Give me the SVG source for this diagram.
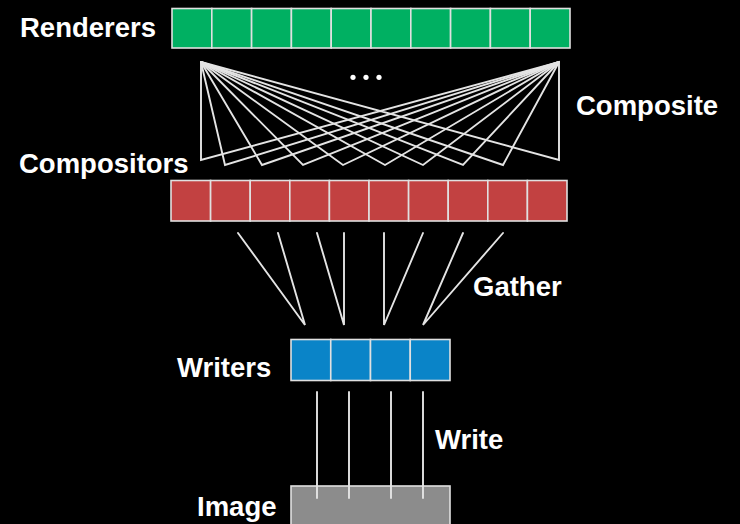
<svg xmlns="http://www.w3.org/2000/svg" width="740" height="524" viewBox="0 0 740 524">
  <style>
    .lbl { font-family: "Liberation Sans", Arial, Helvetica, sans-serif; font-weight: bold; font-size: 27.5px; fill: #ffffff; }
    .cell { stroke: #e0e0e0; stroke-width: 1.6; }
    .rend { fill: #00b062; }
    .comp { fill: #c24141; }
    .writ { fill: #0a84c8; }
    .img { fill: #8c8c8c; }
    .wire { stroke: #e4e4e4; stroke-width: 1.9; fill: none; stroke-linecap: round; }
  </style>
  <rect width="740" height="524" fill="#000000"/>

  <!-- Renderers row -->
  <g id="renderers">
    <text class="lbl" x="20" y="37">Renderers</text>
    <rect class="cell rend" x="172" y="8.5" width="39.8" height="39.5"/>
    <rect class="cell rend" x="211.8" y="8.5" width="39.8" height="39.5"/>
    <rect class="cell rend" x="251.6" y="8.5" width="39.8" height="39.5"/>
    <rect class="cell rend" x="291.4" y="8.5" width="39.8" height="39.5"/>
    <rect class="cell rend" x="331.2" y="8.5" width="39.8" height="39.5"/>
    <rect class="cell rend" x="371" y="8.5" width="39.8" height="39.5"/>
    <rect class="cell rend" x="410.8" y="8.5" width="39.8" height="39.5"/>
    <rect class="cell rend" x="450.6" y="8.5" width="39.8" height="39.5"/>
    <rect class="cell rend" x="490.4" y="8.5" width="39.8" height="39.5"/>
    <rect class="cell rend" x="530.2" y="8.5" width="39.8" height="39.5"/>
  </g>

  <!-- Compositors row -->
  <g id="compositors">
    <text class="lbl" x="19" y="173">Compositors</text>
    <rect class="cell comp" x="171" y="180.5" width="39.6" height="40.5"/>
    <rect class="cell comp" x="210.6" y="180.5" width="39.6" height="40.5"/>
    <rect class="cell comp" x="250.2" y="180.5" width="39.6" height="40.5"/>
    <rect class="cell comp" x="289.8" y="180.5" width="39.6" height="40.5"/>
    <rect class="cell comp" x="329.4" y="180.5" width="39.6" height="40.5"/>
    <rect class="cell comp" x="369" y="180.5" width="39.6" height="40.5"/>
    <rect class="cell comp" x="408.6" y="180.5" width="39.6" height="40.5"/>
    <rect class="cell comp" x="448.2" y="180.5" width="39.6" height="40.5"/>
    <rect class="cell comp" x="487.8" y="180.5" width="39.6" height="40.5"/>
    <rect class="cell comp" x="527.4" y="180.5" width="39.6" height="40.5"/>
  </g>

  <!-- Writers row -->
  <g id="writers">
    <text class="lbl" x="177" y="377">Writers</text>
    <rect class="cell writ" x="291" y="339.5" width="39.75" height="41"/>
    <rect class="cell writ" x="330.75" y="339.5" width="39.75" height="41"/>
    <rect class="cell writ" x="370.5" y="339.5" width="39.75" height="41"/>
    <rect class="cell writ" x="410.25" y="339.5" width="39.75" height="41"/>
  </g>

  <!-- Output image -->
  <g id="image">
    <text class="lbl" x="197" y="516">Image</text>
    <rect class="cell img" x="291" y="486" width="159" height="50"/>
  </g>

  <!-- Stage labels -->
  <g id="stage-labels">
    <text class="lbl" x="576" y="115">Composite</text>
    <text class="lbl" x="473" y="296">Gather</text>
    <text class="lbl" x="435" y="449">Write</text>
    <circle cx="353" cy="77.3" r="2.6" fill="#ffffff"/>
    <circle cx="366" cy="77.3" r="2.6" fill="#ffffff"/>
    <circle cx="379" cy="77.3" r="2.6" fill="#ffffff"/>
  </g>

  <!-- Connectors -->
  <g id="connectors" class="wire">
    <!-- composite: every bottom point tied to both apexes -->
    <path d="M201 62 L201 160 L559 62 L559 160 L201 62"/>
    <path d="M201 62 L225 165 L559 62"/>
    <path d="M201 62 L262 165 L559 62"/>
    <path d="M201 62 L303 165 L559 62"/>
    <path d="M201 62 L343 165 L559 62"/>
    <path d="M201 62 L385 165 L559 62"/>
    <path d="M201 62 L423 165 L559 62"/>
    <path d="M201 62 L463 165 L559 62"/>
    <path d="M201 62 L503 165 L559 62"/>

    <!-- gather -->
    <path d="M238 233 L305 325 L278 233"/>
    <path d="M317 233 L344 325 L344 233"/>
    <path d="M384 233 L384 325 L423 233"/>
    <path d="M463 233 L423 325 L503 233"/>

    <!-- write -->
    <path d="M317 392 L317 498"/>
    <path d="M349 392 L349 498"/>
    <path d="M391 392 L391 498"/>
    <path d="M423 392 L423 498"/>
  </g>
</svg>
